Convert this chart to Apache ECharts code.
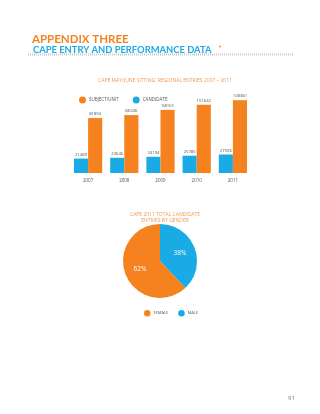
<!DOCTYPE html>
<html>
<head>
<meta charset="utf-8">
<script src="https://cdn.jsdelivr.net/npm/echarts@6/dist/echarts.min.js"></script>
<style>
html, body { margin: 0; padding: 0; background: #fff; }
#container { width: 320px; height: 414px; }
</style>
</head>
<body>
<div id="container"></div>
<script>
// 数据
var years = ['2007', '2008', '2009', '2010', '2011'];
var candidate = [21489, 22646, 24194, 25785, 27596];
var subjectUnit = [81894, 86346, 94053, 101642, 108381];
var genderNames = ['MALE', 'FEMALE'];
var genderValues = [38, 62];

var orange = '#f5821f';
var blue = '#1aabe6';
var titleOrange = '#f29a4e';
var grey = '#555';

var dom = document.getElementById("container");
var myChart = echarts.init(dom);
var option = {
    animation: false,
    title: [
        {
            text: 'APPENDIX THREE',
            left: 27, top: 28,
            textStyle: { color: orange, fontSize: 11.5, fontWeight: 'bold', fontFamily: 'Lato' }
        },
        {
            text: 'CAPE ENTRY AND PERFORMANCE DATA',
            left: 28, top: 40.5,
            textStyle: { color: blue, fontSize: 9.4, fontWeight: 'bold', fontFamily: 'Lato' }
        },
        {
            text: 'CAPE MAY/JUNE SITTING: REGIONAL ENTRIES 2007 – 2011',
            left: 160, top: 73, textAlign: 'center',
            textStyle: { color: titleOrange, fontSize: 5, fontWeight: 'normal', fontFamily: 'Open Sans' }
        },
        {
            text: 'CAPE 2011 TOTAL CANDIDATE\nENTRIES BY GENDER',
            left: 160, top: 206, textAlign: 'center',
            textStyle: { color: titleOrange, fontSize: 5, lineHeight: 6.5, fontWeight: 'normal', fontFamily: 'Open Sans' }
        },
        {
            text: '91',
            left: 283, top: 390,
            textStyle: { color: '#777', fontSize: 6, fontWeight: 'normal', fontFamily: 'Open Sans' }
        }
    ],
    graphic: [
        {
            type: 'line',
            shape: { x1: 28, y1: 54.5, x2: 293, y2: 54.5 },
            style: { stroke: '#c8c8c8', lineWidth: 2, lineDash: [1, 1] }
        },
        {
            type: 'circle',
            shape: { cx: 220, cy: 46.5, r: 0.9 },
            style: { fill: orange }
        }
    ],
    legend: [
        {
            data: ['SUBJECT/UNIT', 'CANDIDATE'],
            left: 74, top: 91.5,
            icon: 'circle', itemWidth: 7, itemHeight: 7, itemGap: 14,
            textStyle: { color: grey, fontSize: 4.5, fontFamily: 'Open Sans', padding: [0, 0, 0, -2] }
        },
        {
            data: ['FEMALE', 'MALE'],
            left: 139, top: 305,
            icon: 'circle', itemWidth: 6.5, itemHeight: 6.5, itemGap: 10,
            textStyle: { color: grey, fontSize: 4, fontFamily: 'Open Sans', padding: [0, 0, 0, -2] }
        }
    ],
    grid: { left: 70, right: 69, top: 92.5, bottom: 241 },
    xAxis: {
        type: 'category',
        data: years,
        axisLine: { show: false },
        axisTick: { show: false },
        axisLabel: { color: grey, fontSize: 4.5, fontFamily: 'Open Sans', margin: 5 }
    },
    yAxis: {
        type: 'value',
        min: 0, max: 120000,
        show: false,
        splitLine: { show: false }
    },
    series: [
        {
            name: 'CANDIDATE',
            type: 'bar',
            data: candidate,
            barGap: '0%',
            barCategoryGap: '22%',
            itemStyle: { color: blue },
            label: {
                show: true, position: 'top', distance: 2,
                color: grey, fontSize: 4.2, fontFamily: 'Open Sans'
            }
        },
        {
            name: 'SUBJECT/UNIT',
            type: 'bar',
            data: subjectUnit,
            barGap: '0%',
            barCategoryGap: '22%',
            itemStyle: { color: orange },
            label: {
                show: true, position: 'top', distance: 2,
                color: grey, fontSize: 4.2, fontFamily: 'Open Sans'
            }
        },
        {
            name: 'gender',
            type: 'pie',
            center: [160, 261],
            radius: 37,
            startAngle: 90,
            clockwise: true,
            data: [
                { name: genderNames[0], value: genderValues[0], itemStyle: { color: blue } },
                { name: genderNames[1], value: genderValues[1], itemStyle: { color: orange } }
            ],
            label: {
                show: true, position: 'inner',
                formatter: '{d}%',
                color: '#fff', fontSize: 6.5, fontFamily: 'Open Sans'
            },
            labelLine: { show: false }
        }
    ]
};
myChart.setOption(option, true);
</script>
</body>
</html>
